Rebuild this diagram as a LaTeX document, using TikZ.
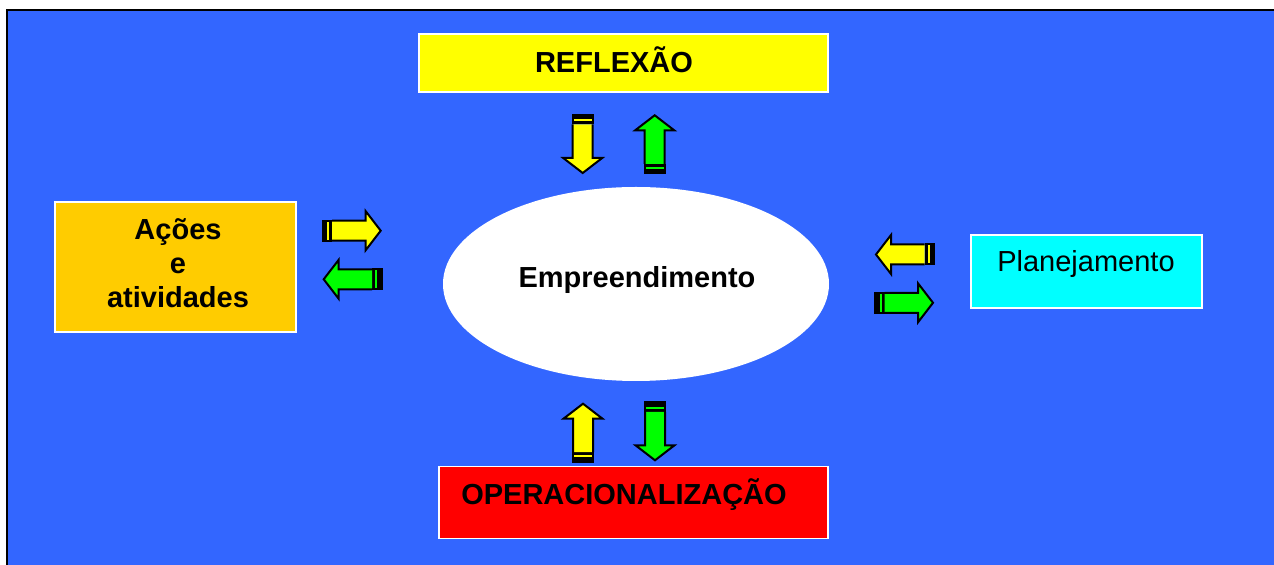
\documentclass[tikz,border=0pt]{standalone}
\usepackage{fontspec}
\setmainfont{Liberation Sans}
\usetikzlibrary{shapes.geometric}
\definecolor{bgblue}{HTML}{3366FF}
\definecolor{ayellow}{HTML}{FFFF00}
\definecolor{agreen}{HTML}{00FF00}
\definecolor{aorange}{HTML}{FFCC00}
\definecolor{acyan}{HTML}{00FFFF}
\definecolor{ared}{HTML}{FF0000}
\tikzset{
  box/.style={draw=white, line width=0.8pt, inner sep=0pt},
  lbl/.style={font=\fontsize{14.5}{17}\selectfont, inner sep=0pt},
  pics/barrow/.style={code={
    \fill[black] (0,-10) rectangle (4.5,10);
    \fill[#1] (4.5,-10) rectangle (6.5,10);
    \fill[black] (6.5,-10) rectangle (9.5,10);
    \draw[line width=1pt, line join=miter, fill=#1]
      (9.5,-10) -- (43,-10) -- (43,-19.5) -- (58,0) -- (43,19.5) -- (43,10) -- (9.5,10);
    \draw[line width=1pt, line join=miter]
      (9.5,-10) -- (0,-10) -- (0,10) -- (9.5,10);
  }}
}
\begin{document}
\begin{tikzpicture}[x=0.5pt,y=-0.5pt]
\useasboundingbox (0,0) rectangle (1274,565);
\fill[white] (0,0) rectangle (1274,565);
\fill[bgblue] (7,10) rectangle (1274,565);
\draw[black, line width=1pt] (7,565) -- (7,10) -- (1274,10);

% boxes
\node[box, fill=ayellow, minimum width=204.5pt, minimum height=29pt] (refl) at (623.5,63) {};
\node[lbl, anchor=base, font=\fontsize{14.5}{17}\selectfont\bfseries] (reflt) at (614,73) {REFLEXÃO};

\node[box, fill=aorange, minimum width=120.5pt, minimum height=65pt] (acoes) at (175.5,267) {};
\node[lbl, anchor=base, align=center, font=\fontsize{14.5}{17}\selectfont\bfseries] (acoest) at (178,308) {Ações\\e\\atividades};

\node[box, fill=acyan, minimum width=115.5pt, minimum height=36.5pt] (plan) at (1086.5,271.5) {};
\node[lbl, anchor=base] (plant) at (1086,272) {Planejamento};

\node[box, fill=ared, minimum width=194.5pt, minimum height=36pt] (oper) at (633.5,502.5) {};
\node[lbl, anchor=base, font=\fontsize{14.5}{17}\selectfont\bfseries] (opert) at (624,505) {OPERACIONALIZAÇÃO};

\node[ellipse, fill=white, minimum width=193pt, minimum height=97pt, inner sep=0pt] (emp) at (636,284) {};
\node[lbl, anchor=base, font=\fontsize{14.5}{17}\selectfont\bfseries] (empt) at (637,288) {Empreendimento};

% arrows
\pic[rotate=-90] at (582.7,115) {barrow=ayellow};
\pic[rotate=90] at (654.7,173.3) {barrow=agreen};
\pic at (322.7,230.7) {barrow=ayellow};
\pic[rotate=180] at (381.7,279.3) {barrow=agreen};
\pic[rotate=180] at (934,254.5) {barrow=ayellow};
\pic at (875,302.8) {barrow=agreen};
\pic[rotate=90] at (583,461.7) {barrow=ayellow};
\pic[rotate=-90] at (655,402.3) {barrow=agreen};
\end{tikzpicture}
\end{document}
